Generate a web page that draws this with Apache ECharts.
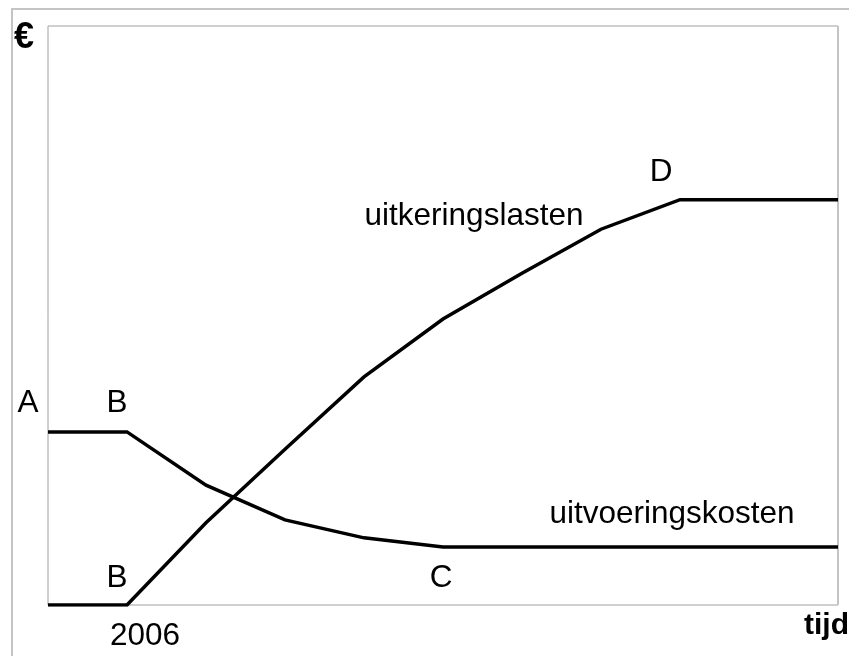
<!DOCTYPE html>
<html>
<head>
<meta charset="utf-8">
<title>uitkeringslasten en uitvoeringskosten</title>
<script src="https://cdn.jsdelivr.net/npm/echarts@6/dist/echarts.min.js"></script>
<style>
  html, body { margin: 0; padding: 0; background: #fff; }
  #chart { width: 849px; height: 656px; }
</style>
</head>
<body>
<div id="chart"></div>
<script>
// tijdstappen (x-as, zonder eenheden)
const tijd = [0, 1, 2, 3, 4, 5, 6, 7, 8, 9, 10]
// bedragen in € (relatieve schaal 0-100)
const uitvoeringskosten = [29.9, 29.9, 20.7, 14.7, 11.6, 10.0, 10.0, 10.0, 10.0, 10.0, 10.0]
const uitkeringslasten = [0, 0, 14.2, 26.9, 39.4, 49.4, 57.3, 64.9, 70.0, 70.0, 70.0]

const chart = echarts.init(document.getElementById('chart'))

const toPairs = (ys) => tijd.map((t, i) => [t, ys[i]])

const lineStyle = { color: '#000', width: 3.5, join: 'miter' }
const font = 'Liberation Sans, Arial, sans-serif'

// losse tekstlabels in de figuur
const txt = (text, x, y, opts = {}) => ({
  type: 'text',
  x: x,
  y: y,
  style: {
    text: text,
    fill: '#000',
    font: (opts.bold ? 'bold ' : '') + (opts.size || 31.5) + 'px ' + font,
    textAlign: opts.align || 'center',
    textVerticalAlign: 'middle'
  }
})

const option = {
  animation: false,
  backgroundColor: '#fff',
  grid: {
    left: 48,
    top: 26,
    right: 11,
    bottom: 51,
    show: true,
    borderColor: '#a0a0a0',
    borderWidth: 1
  },
  xAxis: {
    type: 'value',
    min: 0,
    max: 10,
    interval: 1,
    axisLine: { show: false },
    axisTick: { show: false },
    axisLabel: { show: false },
    splitLine: { show: false }
  },
  yAxis: {
    type: 'value',
    min: 0,
    max: 100,
    axisLine: { show: false },
    axisTick: { show: false },
    axisLabel: { show: false },
    splitLine: { show: false }
  },
  series: [
    {
      name: 'uitvoeringskosten',
      type: 'line',
      symbol: 'none',
      lineStyle: lineStyle,
      data: toPairs(uitvoeringskosten)
    },
    {
      name: 'uitkeringslasten',
      type: 'line',
      symbol: 'none',
      lineStyle: lineStyle,
      data: toPairs(uitkeringslasten)
    }
  ],
  graphic: [
    // buitenrand (boven en links)
    {
      type: 'rect',
      shape: { x: 12, y: 9, width: 900, height: 700 },
      style: { fill: 'none', stroke: '#c4c4c4', lineWidth: 2 },
      silent: true
    },
    // rechterrand van het plotvlak
    {
      type: 'line',
      shape: { x1: 838, y1: 26, x2: 838, y2: 605 },
      style: { stroke: '#c4c4c4', lineWidth: 2 },
      silent: true
    },
    txt('€', 24, 38, { bold: true, size: 36 }),
    txt('tijd', 849, 626, { bold: true, size: 30, align: 'right' }),
    txt('2006', 145, 636),
    txt('A', 28, 403),
    txt('B', 117, 403),
    txt('B', 117, 578),
    txt('C', 441, 578),
    txt('D', 661, 172),
    txt('uitkeringslasten', 474, 216),
    txt('uitvoeringskosten', 672, 514)
  ]
}

chart.setOption(option)
</script>
</body>
</html>
